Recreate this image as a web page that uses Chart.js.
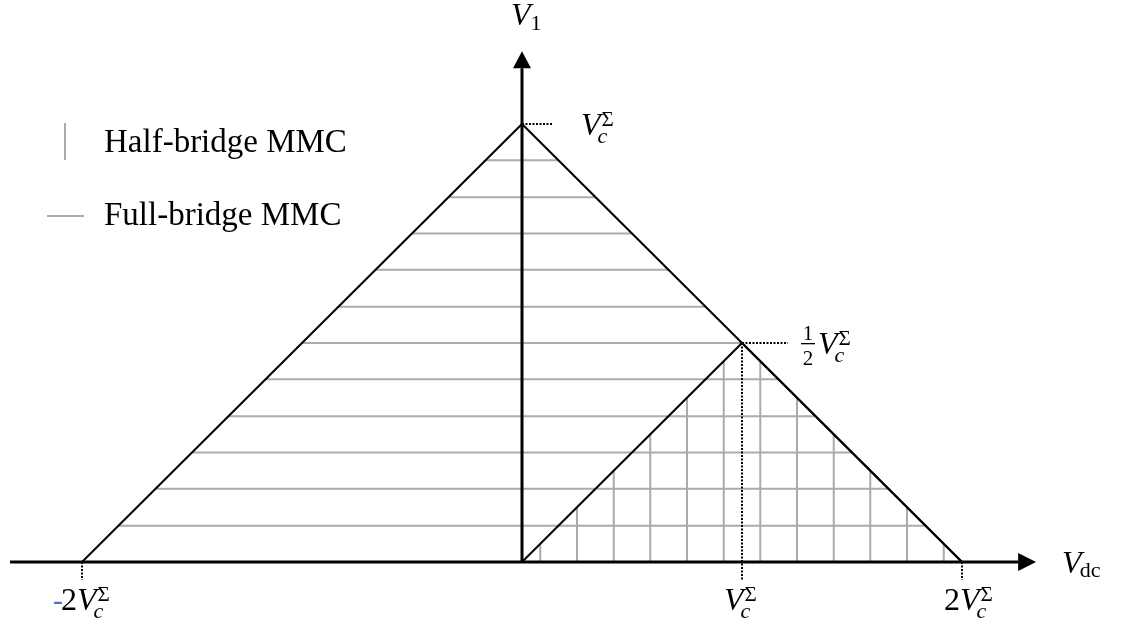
<!DOCTYPE html>
<html>
<head>
<meta charset="utf-8">
<script src="https://cdn.jsdelivr.net/npm/chart.js@4"></script>
<style>
  html, body { margin: 0; padding: 0; background: #fff; }
  #wrap { width: 1125px; height: 626px; }
</style>
</head>
<body>
<div id="wrap"><canvas id="regionChart" width="1125" height="626"></canvas></div>
<script>
// Operating region: V1 against Vdc, both in units of Vc^Σ
const bigX = [-2, 0, 2];
const bigY = [0, 1, 0];
const smallX = [0, 1, 2];
const smallY = [0, 0.5, 0];

// full-bridge hatching (horizontal) levels and half-bridge hatching (vertical) positions
const fullLevels = [0.083, 0.167, 0.25, 0.333, 0.417, 0.5, 0.583, 0.667, 0.75, 0.833, 0.917];
const halfPositions = [0.083, 0.25, 0.417, 0.583, 0.75, 0.917, 1.083, 1.25, 1.417, 1.583, 1.75, 1.917];

// axis tick marks and their coefficients
const xTicks = [-2, 1, 2];
const xTickLabels = ['-2', '', '2'];
const yMarks = [1, 0.5];
const yMarkLabels = ['', '1/2'];

// axis extents (arrowhead bases)
const xAxisRange = [-2.327, 2.255];
const yAxisRange = [0, 1.127];

const GRAY = '#ababab';
const SERIF = '"Liberation Serif", "DejaVu Serif", serif';

function seg(x1, y1, x2, y2) {
  return [{ x: x1, y: y1 }, { x: x2, y: y2 }];
}
function lineSet(data, color, width, order, dash) {
  return {
    data: data, showLine: true, borderColor: color, borderWidth: width,
    pointRadius: 0, pointHoverRadius: 0, fill: false, clip: false,
    borderDash: dash || [], order: order, borderCapStyle: 'butt'
  };
}

const datasets = [];

// horizontal lines across the big triangle
fullLevels.forEach(y => {
  const half = 2 * (1 - y);
  datasets.push(lineSet(seg(-half, y, half, y), GRAY, 2, 10));
});

// vertical lines inside the small triangle
halfPositions.forEach(x => {
  const top = x <= 1 ? x / 2 : (2 - x) / 2;
  datasets.push(lineSet(seg(x, 0, x, top), GRAY, 2, 10));
});

// triangle outlines
datasets.push(lineSet(bigX.map((x, i) => ({ x: x, y: bigY[i] })), '#000', 2, 5));
datasets.push(lineSet(smallX.map((x, i) => ({ x: x, y: smallY[i] })), '#000', 2, 5));

// dotted guides to the marks
const dots = [2, 1.5];
datasets.push(lineSet(seg(0, 1, 0.141, 1), '#000', 2, 4, dots));
datasets.push(lineSet(seg(1, 0.5, 1.209, 0.5), '#000', 2, 4, dots));
datasets.push(lineSet(seg(1, 0.5, 1, -0.041), '#000', 2, 4, dots));
datasets.push(lineSet(seg(-2, 0, -2, -0.041), '#000', 2, 4, dots));
datasets.push(lineSet(seg(2, 0, 2, -0.041), '#000', 2, 4, dots));

// axes
datasets.push(lineSet(seg(xAxisRange[0], 0, xAxisRange[1], 0), '#000', 3, 1));
datasets.push(lineSet(seg(0, yAxisRange[0], 0, yAxisRange[1]), '#000', 3, 1));

// V with subscript c and superscript Σ; returns width drawn
function drawVc(ctx, x, base) {
  ctx.font = 'italic 32px ' + SERIF;
  ctx.fillText('V', x, base);
  const w = ctx.measureText('V').width;
  ctx.font = 'italic 22px ' + SERIF;
  ctx.fillText('c', x + w - 3, base + 8);
  ctx.font = '21px ' + SERIF;
  ctx.fillText('Σ', x + w + 1, base - 9);
  return w + 16;
}

const annotate = {
  id: 'annotate',
  afterDatasetsDraw(chart) {
    const ctx = chart.ctx;
    const sx = chart.scales.x, sy = chart.scales.y;
    const ox = sx.getPixelForValue(0), oy = sy.getPixelForValue(0);
    ctx.save();
    ctx.fillStyle = '#000';
    ctx.textBaseline = 'alphabetic';
    ctx.textAlign = 'left';

    // arrowheads
    const xb = sx.getPixelForValue(xAxisRange[1]);
    ctx.beginPath();
    ctx.moveTo(xb, oy - 9); ctx.lineTo(xb + 18, oy); ctx.lineTo(xb, oy + 9);
    ctx.closePath(); ctx.fill();
    const yb = sy.getPixelForValue(yAxisRange[1]);
    ctx.beginPath();
    ctx.moveTo(ox - 9, yb); ctx.lineTo(ox, yb - 17); ctx.lineTo(ox + 9, yb);
    ctx.closePath(); ctx.fill();

    // axis titles
    ctx.font = 'italic 32px ' + SERIF;
    ctx.fillText('V', ox - 11, yb - 43);
    let w = ctx.measureText('V').width;
    ctx.font = '22px ' + SERIF;
    ctx.fillText('1', ox - 11 + w, yb - 38);

    ctx.font = 'italic 32px ' + SERIF;
    ctx.fillText('V', xb + 44, oy + 11);
    w = ctx.measureText('V').width;
    ctx.font = '22px ' + SERIF;
    ctx.fillText('dc', xb + 42 + w, oy + 15);

    // x tick labels
    xTicks.forEach((t, i) => {
      const px = sx.getPixelForValue(t);
      const base = oy + 48;
      let x = px - 18;
      let coef = xTickLabels[i];
      if (coef.startsWith('-')) {
        x = px - 21;
        ctx.font = '30px ' + SERIF;
        ctx.fillStyle = '#4472c4';
        ctx.fillText('-', x - 8, base);
        ctx.fillStyle = '#000';
        coef = coef.slice(1);
      }
      if (coef) {
        ctx.font = '32px ' + SERIF;
        ctx.fillText(coef, x, base);
        x += ctx.measureText(coef).width;
      }
      drawVc(ctx, x, base);
    });

    // y marks next to the apexes
    yMarks.forEach((m, i) => {
      const px = sx.getPixelForValue(m === 1 ? 0 : 1);
      const py = sy.getPixelForValue(m);
      let x = px + 59;
      const lab = yMarkLabels[i];
      if (lab) {
        const parts = lab.split('/');
        ctx.font = '21px ' + SERIF;
        ctx.textAlign = 'center';
        ctx.fillText(parts[0], x + 7, py - 3);
        ctx.fillText(parts[1], x + 7, py + 22);
        ctx.textAlign = 'left';
        ctx.fillRect(x, py, 14, 1.3);
        x += 17;
      }
      drawVc(ctx, x, py + 11);
    });

    // legend
    ctx.strokeStyle = GRAY;
    ctx.lineWidth = 2;
    ctx.beginPath();
    ctx.moveTo(65, 123); ctx.lineTo(65, 160);
    ctx.moveTo(47, 216); ctx.lineTo(84, 216);
    ctx.stroke();
    ctx.font = '33px ' + SERIF;
    ctx.fillText('Half-bridge MMC', 104, 152);
    ctx.fillText('Full-bridge MMC', 104, 225);
    ctx.restore();
  }
};

new Chart(document.getElementById('regionChart'), {
  type: 'scatter',
  data: { datasets: datasets },
  options: {
    responsive: false,
    animation: false,
    devicePixelRatio: 1,
    layout: { padding: 0 },
    plugins: { legend: { display: false }, tooltip: { enabled: false } },
    events: [],
    scales: {
      x: { type: 'linear', display: false, min: -2.3727, max: 2.7409 },
      y: { type: 'linear', display: false, min: -0.1461, max: 1.2831 }
    }
  },
  plugins: [annotate]
});
</script>
</body>
</html>
